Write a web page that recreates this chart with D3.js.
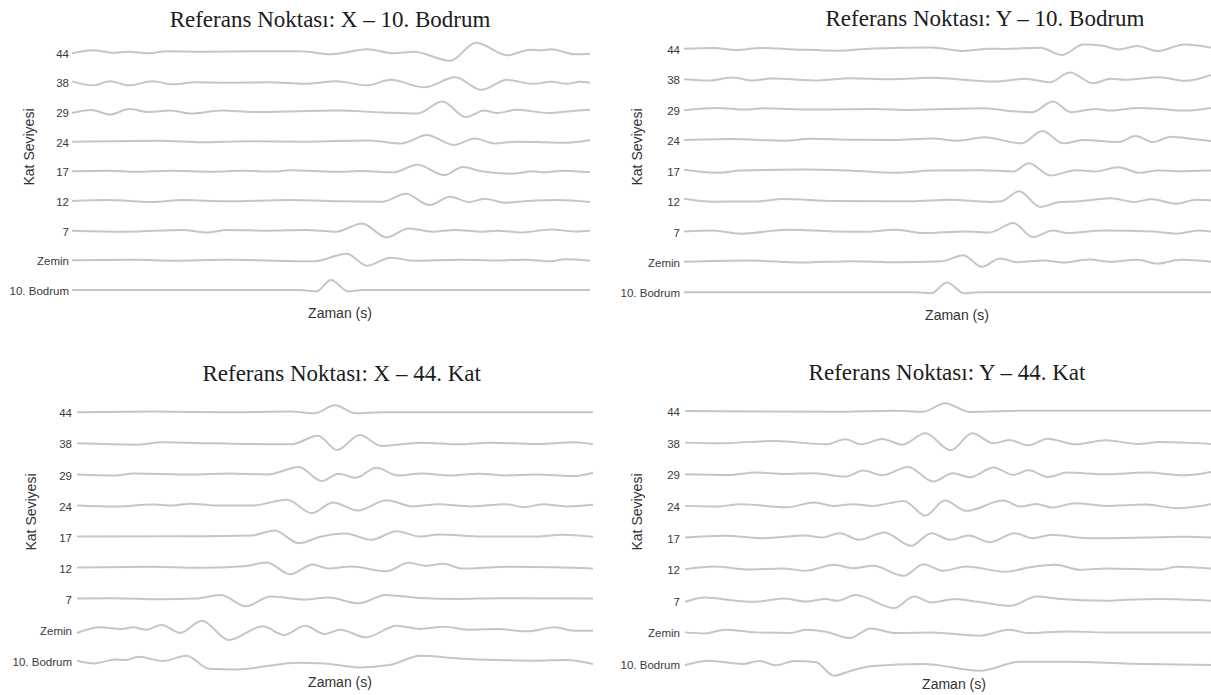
<!DOCTYPE html>
<meta charset="utf-8">
<style>

    body {
        margin: 0;
        background-color: #ffffff;
    }

    text {
        font-family: "Liberation Sans", Arial, sans-serif;
        fill: #333333;
    }

    text.title {
        font-family: "Liberation Serif", "Times New Roman", serif;
        font-size: 23px;
        fill: #1c1c1c;
    }

    text.label {
        font-size: 14px;
    }

    path.trace {
        fill: none;
        stroke: #c6c6c6;
        stroke-width: 2;
    }

</style>
<body>
<script src="https://d3js.org/d3.v7.min.js"></script>
<script>

    // kat seviyeleri (yukaridan asagiya)
    var floors = ["44", "38", "29", "24", "17", "12", "7", "Zemin", "10. Bodrum"];

    var titles = [
        "Referans Noktası: X \u2013 10. Bodrum",
        "Referans Noktası: Y \u2013 10. Bodrum",
        "Referans Noktası: X \u2013 44. Kat",
        "Referans Noktası: Y \u2013 44. Kat"
    ];

    // her iz: [zaman (% of record), genlik]
    var xBodrum = [
        [[0,-0.5],[4,2.5],[8,0],[11,1],[14.5,-0.5],[18.5,1.5],[25,1],[32,1.3],[38,1.5],[44,1.5],[50,-1.5],[57,3.5],[62,-0.5],[66,1],[73,-8],[78,10],[84,-2.5],[88.5,3],[90.5,2.3],[92.5,3.5],[97,-1.5],[100,-1]],
        [[0,1],[4,-3],[7.4,1],[11,-3],[15.5,1],[19.6,-2],[24,0],[30,-0.5],[38,0],[45,-1.5],[51,1],[57,-3],[61.5,2.5],[68,-5],[74,5],[79,-7.5],[84,2.5],[89,-1.5],[92.6,0.5],[95.5,-1.5],[98,0.5],[100,-0.5]],
        [[0,-1],[3.7,2],[7.4,-2.5],[11,3],[14.8,0],[19,1.5],[23,-1.5],[29,1.5],[35,0],[41.5,0.5],[51,1.5],[60,-0.5],[66.7,-1.5],[71.5,10.5],[76,-5],[79.6,1.5],[82,-1],[86,2.3],[92,-1],[97,1.3],[100,2.3]],
        [[0,0],[17,1],[25,-0.5],[34,0.5],[45,0],[57,1.3],[63.7,-1.7],[68.5,6.7],[73.7,-3.3],[77.8,3.3],[81.5,-1.7],[86,0],[91,-0.5],[95.5,-1],[100,1.7]],
        [[0,0],[6.7,0.5],[12.6,-0.5],[19,0.5],[27,-0.3],[33,0.5],[39,-0.2],[42,1],[51,-0.5],[56,0.3],[62,-1],[66.7,6.7],[71.8,-3.7],[75.5,4.3],[79,0],[85,-2.3],[89,0],[91,-1],[95,0.7],[100,-1]],
        [[0,0],[7,1],[15.5,-1],[21.5,1],[30,-0.3],[42,1],[52.6,-0.3],[60,-0.7],[64.4,7.3],[69,-4],[73,4.3],[76.7,-1],[79.6,2.3],[83.7,-1.7],[88,0],[94,1],[100,-1]],
        [[0,0],[10.4,-1],[21.5,0.7],[26,-1.7],[30,0.7],[37.8,0],[45,0.7],[51,-1],[56,7.3],[60.7,-6.7],[65,2.3],[69.6,-1],[74,0.7],[79,-1],[82,0],[86.7,-1.7],[92.6,1.3],[97,-0.7],[100,0]],
        [[0,0],[12,0.5],[19.5,-0.3],[30,0.5],[39,-0.3],[46.7,-1],[53,6.7],[57,-5.3],[61.5,2.7],[66,-0.3],[74.8,0.7],[82,-0.2],[87.4,0.7],[92.6,-1],[95,1],[100,-0.3]],
        [[0,0],[44,0],[47.2,-1.3],[50,10],[53.3,-1.3],[56,0],[100,0]]
    ];

    var yBodrum = [
        [[0,0],[5.5,0.7],[10,-1.3],[14.4,0.7],[21,-0.7],[29,-2],[36,0.3],[47,1.3],[53,-2.3],[58,0],[61,-0.3],[67.6,1],[71.7,-6.3],[75.8,4.3],[79.5,3],[82.4,-0.7],[86,2.7],[89.8,-2.3],[95,4.3],[100,1.3]],
        [[0,0],[4.8,-1.3],[9.2,1.7],[13,-1.3],[16.6,0.7],[25.5,-1.3],[31.4,1],[39.5,0],[47,1.3],[58.8,-2.3],[64.7,0.3],[69.5,-3],[73.2,6.7],[77.6,-4],[81,0.3],[83.5,-0.7],[90.2,2],[95,-1.7],[100,4.3]],
        [[0,-0.7],[6.3,1.7],[11.5,0],[15,1.3],[24,0],[36,0.7],[43,-0.3],[57,1.3],[62.5,-1.7],[66,-2.7],[70,8],[73.5,-2.7],[78,0.7],[81,-1],[86,1.7],[90.5,0.7],[95,-1],[100,1.7]],
        [[0,0],[9,1],[19,-0.7],[24,1.3],[32,0.3],[40,0],[47,1.5],[52,-0.7],[57,2.7],[64,-3.3],[68,9],[72,-3.3],[75.8,0],[82.4,-2],[85.7,4],[89,-2],[92.4,3.3],[97,0.7],[100,-1]],
        [[0,0.7],[6.3,-2.3],[10.7,0],[22.5,1],[32,-0.3],[40.3,-2.3],[47,0],[56.5,0.3],[62.5,-1],[65.4,7.3],[69.5,-5],[74.3,0.3],[78,-1],[82.4,3.3],[86.5,-2.3],[89.8,0],[93.5,-0.7],[100,0]],
        [[0,2.3],[5.5,-0.7],[13.7,-0.5],[18.8,2],[28.5,0],[43,-0.3],[50.6,1.3],[58,-1],[60.2,-0.3],[63.6,9.7],[67.6,-6],[71.3,-1],[74.3,-0.5],[81,2.7],[85.4,-1],[88.7,1.7],[93.5,-2.7],[97.2,1.3],[100,0.7]],
        [[0,0],[5.5,1],[10.7,-2.3],[19.6,1.7],[28.5,0],[34.4,-0.3],[40.3,1.7],[45.5,-1.7],[53.6,0],[58,-1],[62.5,8.3],[66.2,-5.7],[70,1],[72.8,-1.7],[79.5,1],[89,0],[93.5,-2.3],[97.6,1],[100,0]],
        [[0,0],[12.2,1.3],[22.5,-0.7],[32,0.7],[40.3,-0.3],[49,0.7],[53,6.7],[56.5,-5],[60,3.3],[63.2,-0.3],[68.4,1.3],[72,-0.7],[76.9,2.3],[81,0],[86,2],[89.8,-1.7],[94.2,2],[100,0]],
        [[0,0],[44,0],[46.9,-1],[49.9,9.7],[53.2,-1],[56,0],[100,0]]
    ];

    var x44 = [
        [[0,0],[14.8,0.7],[29.6,0],[41.5,0.7],[46,-1],[50,7],[54,-1],[59,0],[100,0]],
        [[0,0],[11.8,-1.3],[16.3,1],[26.7,0],[41.5,-1],[46.7,7.7],[50.4,-6.7],[54.8,8.3],[59,-2.7],[66.7,0.7],[74,-1],[80,0.7],[89,-0.7],[96.3,1],[100,-1]],
        [[0,0],[7.4,-1],[11,1],[22,0],[29.6,1],[37,0],[43,7.3],[47.4,-6.7],[50.7,0.7],[54,-3.3],[58,6.7],[62.2,-1],[66.7,1],[72.6,-1],[77.8,0.7],[83,-1],[89,0],[96.3,-1.7],[100,1.7]],
        [[0,0],[7.4,-1],[14.8,1],[18.5,0],[22,1.7],[26.7,0],[34,0],[40.7,5.7],[45.5,-7.7],[49.6,3],[54.4,-5],[60,5.3],[65,-1],[70,1.3],[76.3,-1],[83,1.3],[86.7,-1.7],[90.4,1.3],[94.8,-1],[100,0.7]],
        [[0,0],[22,0.3],[33.8,1],[38.3,6],[43,-6.7],[47.2,-0.3],[52,3],[57,-3.3],[62,5.3],[66.5,0],[70.3,2],[78.4,0],[88.8,0],[94,1.7],[100,-0.3]],
        [[0,0],[14.5,0.7],[23.4,-0.3],[32.3,1.3],[36.8,5],[41.3,-6.7],[45.7,3],[48.7,-1],[53.2,1],[59.9,-3.7],[64.3,4.7],[67.7,1.7],[71,3.7],[74.7,-1],[83.6,0.7],[92.6,0.3],[100,-1]],
        [[0,0],[7,0.3],[16,-0.7],[23,0],[27.9,3.7],[32.7,-7.7],[37.5,2],[44.2,-1],[48.7,1],[54.6,-4.7],[59.8,3.7],[66.5,0.7],[74,-0.3],[81.4,0.3],[100,0]],
        [[0,-3.3],[4.5,2.3],[8.6,0.7],[10.8,2.3],[13.4,0],[16.4,4.7],[20,-3.3],[24.2,9],[29.4,-10.3],[36,3.3],[40.1,-5.3],[44.2,4],[48,-4.3],[51,0],[56,-7.7],[62,4],[66.5,0.7],[71,3],[76.2,0],[81.4,0.7],[87.4,-1.7],[92.6,2.3],[96.3,-1],[100,-1]],
        [[0,0],[3.3,-2.7],[7.5,1.3],[9.5,0.7],[11.9,4],[16.7,-0.3],[21.2,5],[25.6,-8],[30.9,-8.7],[42.8,-2],[48,-2.7],[54.6,-6.7],[60.6,-4.3],[66.5,5],[74,2.3],[81.4,0.7],[88.8,0],[94.8,0.7],[100,-3.3]]
    ];

    var y44 = [
        [[0,0],[28.3,-0.7],[40,0.3],[45.3,-0.7],[49.4,7.7],[54.2,-1],[65.3,0.3],[100,0.3]],
        [[0,0],[6,-0.7],[17.2,1.7],[26.8,-1.7],[30.5,3.3],[33.5,-1.7],[37.5,3.7],[41.3,-2],[45.7,9.3],[50.5,-7.7],[54.6,9.3],[58.7,-0.7],[61.6,2.7],[65.3,-2.7],[69,4],[74.2,-1.7],[80,2.3],[86,-1.3],[90.5,0.7],[95,0],[100,-1.3]],
        [[0,0],[8.3,-0.7],[13.5,1.7],[19,0.3],[24.6,1],[30.5,-2.3],[33.9,3.7],[37.5,-1],[42.4,7.3],[47.2,-7.3],[50.9,1],[54.2,-3],[58.7,6.7],[62.4,-0.7],[65.3,4],[69,-2.7],[72.7,1.7],[80,0],[87.6,1.7],[95,-1],[100,2.3]],
        [[0,0],[6,-0.7],[10.5,1.7],[19.4,-1.3],[24.6,3.3],[28.3,0],[32,1.7],[35.7,0],[41.6,5],[45.7,-9.7],[49.4,5.3],[53.5,-5],[60.5,5.3],[63.8,-0.7],[66.8,2],[69.8,-1.7],[74.2,2.7],[80,0],[87.6,1.3],[93.5,-2.3],[100,1.7]],
        [[0,0],[7.6,1.7],[15,-0.7],[23,2],[26,0],[29.4,4.3],[33.1,-2.3],[37.9,5],[43,-8.3],[46.8,4.3],[50.5,-2.3],[53.9,2],[58,-4.7],[62.7,4.3],[66,-0.7],[69.8,2.7],[76.4,-0.7],[87.6,0],[95,0.7],[100,0]],
        [[0,0],[5.7,2.7],[12,-0.3],[18.7,0.7],[23,-1.7],[28.3,4.3],[32,1],[35.7,3.3],[41.6,-6.7],[45.3,5],[49,-1.7],[53.5,2.7],[61,-2.7],[65.3,1.7],[70.5,4.3],[75,-0.7],[80,0.7],[90.5,-0.3],[93.5,2.3],[100,0.7]],
        [[0,-1],[3.9,3.3],[9.8,0],[13.5,-1],[18.7,2.3],[23,-0.7],[26.8,1.7],[29,0],[32.4,5.7],[39.8,-7.3],[43.5,4.3],[46.8,-1.7],[51.3,1.7],[55.7,-1],[62,-5],[66.8,4.3],[71.3,1.7],[80,0],[83.9,1],[90.5,1.7],[100,0]],
        [[0,0],[3.9,-1],[7.6,2.7],[13.5,0],[20,-0.7],[23,2.7],[26.8,0.7],[31.3,-5.7],[35.3,4],[40,-0.7],[46.8,0],[56,-3.3],[61.6,2.7],[65.3,-0.7],[72.7,1],[80,0],[100,0]],
        [[0,-1],[4.6,3.3],[10.9,0],[14.2,3],[17.2,-1.3],[20.9,3],[24.9,1.7],[28.3,-11.7],[32,-6],[35.7,-2],[45.3,0],[56,-6.7],[63.8,2.3],[72.7,2.3],[87.6,0],[100,-1]]
    ];

    var panels = [
        {title: titles[0], traces: xBodrum, x0: 72, x1: 590, y0: 52.7, y1: 290, labelX: 69, titleX: 330, titleY: 27.3, katX: 29, katY: 147, zamanX: 340, zamanY: 313},
        {title: titles[1], traces: yBodrum, x0: 684, x1: 1211, y0: 48.7, y1: 292.3, labelX: 680, titleX: 985, titleY: 26, katX: 637, katY: 147, zamanX: 957, zamanY: 315},
        {title: titles[2], traces: x44, x0: 77, x1: 593, y0: 412.3, y1: 660.7, labelX: 72, titleX: 341.7, titleY: 380.7, katX: 30.6, katY: 512, zamanX: 340, zamanY: 681.7},
        {title: titles[3], traces: y44, x0: 685, x1: 1211, y0: 411, y1: 664, labelX: 680, titleX: 947, titleY: 379.5, katX: 637, katY: 512, zamanX: 954, zamanY: 684}
    ];

    var width = 1211,
        height = 695;

    var svg = d3.select("body").append("svg")
        .attr("width", width)
        .attr("height", height);

    var amp = d3.scaleLinear()
        .domain([-10, 10])
        .range([10, -10]);

    panels.forEach(function(p) {
        var x = d3.scaleLinear()
            .domain([0, 100])
            .range([p.x0, p.x1]);

        var y = d3.scalePoint()
            .domain(floors)
            .range([p.y0, p.y1]);

        var line = d3.line()
            .x(function(d) { return x(d[0]); })
            .y(function(d) { return amp(d[1]); })
            .curve(d3.curveMonotoneX);

        var g = svg.append("g");

        g.selectAll("path.trace")
            .data(p.traces)
          .enter().append("path")
            .attr("class", "trace")
            .attr("transform", function(d, i) { return "translate(0," + y(floors[i]) + ")"; })
            .attr("d", line);

        var axis = g.append("g")
            .attr("transform", "translate(" + p.labelX + ",0)")
            .call(d3.axisLeft(y).tickSize(0).tickPadding(0));

        axis.select(".domain").remove();
        axis.selectAll("text")
            .attr("font-size", "11.5px")
            .attr("dy", "0.4em")
            .style("fill", "#3a3a3a");

        g.append("text")
            .attr("class", "title")
            .attr("x", p.titleX)
            .attr("y", p.titleY)
            .attr("text-anchor", "middle")
            .text(p.title);

        g.append("text")
            .attr("class", "label")
            .attr("transform", "translate(" + p.katX + "," + p.katY + ") rotate(-90)")
            .attr("dy", "0.35em")
            .attr("text-anchor", "middle")
            .text("Kat Seviyesi");

        g.append("text")
            .attr("class", "label")
            .attr("x", p.zamanX)
            .attr("y", p.zamanY)
            .attr("dy", "0.35em")
            .attr("text-anchor", "middle")
            .text("Zaman (s)");
    });

</script>
